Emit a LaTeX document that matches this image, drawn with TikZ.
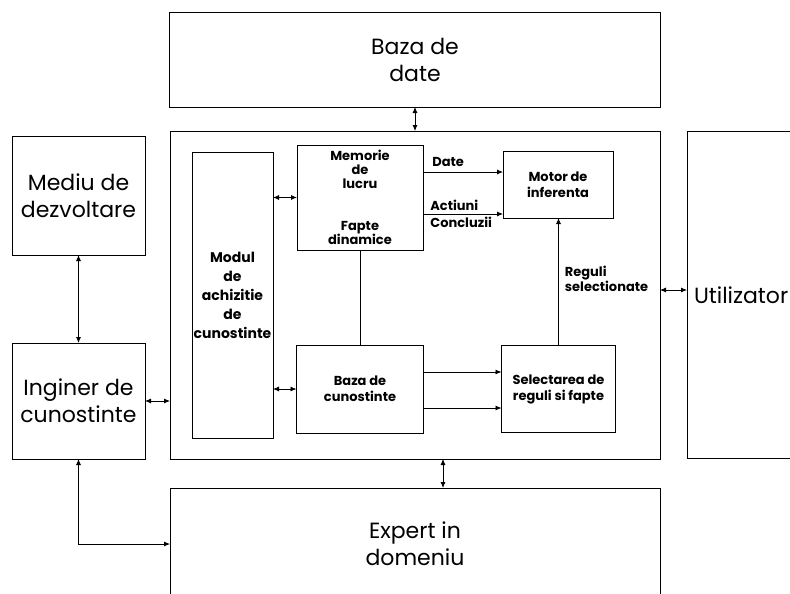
\documentclass[tikz,border=0pt]{standalone}
\usepackage{fontspec}
\setmainfont{Poppins}
\usetikzlibrary{arrows.meta,positioning}

\begin{document}
\begin{tikzpicture}[x=1pt, y=-1pt,
    >={Latex[length=6pt,width=5pt]},
    box/.style={rectangle, draw, line width=0.8pt, inner sep=0pt, outer sep=0pt, align=center},
    outer/.style={box, font=\fontsize{22}{27}\selectfont},
    inner/.style={box, font=\bfseries\fontsize{13}{16}\selectfont},
    modbox/.style={box, font=\bfseries\fontsize{14}{19}\selectfont},
    label/.style={font=\bfseries\fontsize{13}{15}\selectfont, inner sep=1pt, align=left},
    link/.style={line width=0.8pt}
  ]
    \path[use as bounding box, clip] (0,0) rectangle (790,594);

    \node[box, minimum width=490pt, minimum height=328pt] (system) at (415,295) {};

    \node[outer, minimum width=491pt, minimum height=95pt, above=24pt of system] (database) {Baza de\\date};
    \node[outer, minimum width=490pt, minimum height=112pt, below=29pt of system] (expert) {Expert in\\domeniu};
    \node[outer, minimum width=114pt, minimum height=327pt, text width=100pt, inner xsep=6pt, align=left, right=27pt of system] (user) {Utilizator};
    \node[outer, minimum width=133pt, minimum height=116pt, left=25pt of system.south west, anchor=south east] (engineer) {Inginer de\\cunostinte};
    \node[outer, minimum width=133pt, minimum height=119pt, above=88pt of engineer] (devenv) {Mediu de\\dezvoltare};

    \node[modbox, minimum width=81pt, minimum height=286pt, right=22pt of system.west] (acquisition) {Modul\\de\\achizitie\\de\\cunostinte};
    \node[inner, font=\bfseries\fontsize{13}{14}\selectfont, minimum width=126pt, minimum height=105pt, right=24pt of acquisition.north east, anchor=north west, yshift=7pt] (workmem) {Memorie\\de\\lucru\\[28pt]Fapte\\dinamice};
    \node[inner, minimum width=127pt, minimum height=88pt, below=95pt of workmem] (knowbase) {Baza de\\cunostinte};
    \node[inner, minimum width=110pt, minimum height=67pt, right=80pt of workmem.north east, anchor=north west, yshift=-6pt] (engine) {Motor de\\inferenta};
    \node[inner, minimum width=114pt, minimum height=87pt, right=78pt of knowbase] (selection) {Selectarea de\\reguli si fapte};

    \draw[link, <->] (database.south) -- (system.north);
    \draw[link, <->] ([xshift=28pt]system.south) -- ([xshift=28pt]expert.north);
    \draw[link, <->] ([yshift=5pt]system.east) -- ([yshift=5pt]user.west);
    \draw[link, <->] (devenv.south) -- (engineer.north);
    \draw[link, <->] (engineer.east) -- (engineer.east -| system.west);
    \draw[link, <->] (engineer.south) |- (expert.west);

    \draw[link, <->] (workmem.west) -- (workmem.west -| acquisition.east);
    \draw[link, <->] (knowbase.west) -- (knowbase.west -| acquisition.east);
    \draw[link] (workmem.south) -- (knowbase.north);

    \draw[link, ->] ([yshift=12.5pt]engine.west -| workmem.east) -- node[label, pos=0, anchor=south west, xshift=8pt, yshift=4pt] (datelbl) {Date} ([yshift=12.5pt]engine.west);
    \draw[link, ->] ([yshift=-29.5pt]engine.west -| workmem.east) -- node[label, pos=0, anchor=south west, xshift=6pt, yshift=2pt] (actlbl) {Actiuni} node[label, pos=0, anchor=north west, xshift=6pt, yshift=-2pt] (conclbl) {Concluzii} ([yshift=-29.5pt]engine.west);

    \draw[link, ->] ([yshift=17pt]knowbase.east) -- ([yshift=17pt]knowbase.east -| selection.west);
    \draw[link, ->] ([yshift=-19pt]knowbase.east) -- ([yshift=-19pt]knowbase.east -| selection.west);
    \draw[link, ->] (selection.north) -- node[label, pos=0.52, right, xshift=5pt] (ruleslbl) {Reguli\\selectionate} (selection.north |- engine.south);
  \end{tikzpicture}
\end{document}
